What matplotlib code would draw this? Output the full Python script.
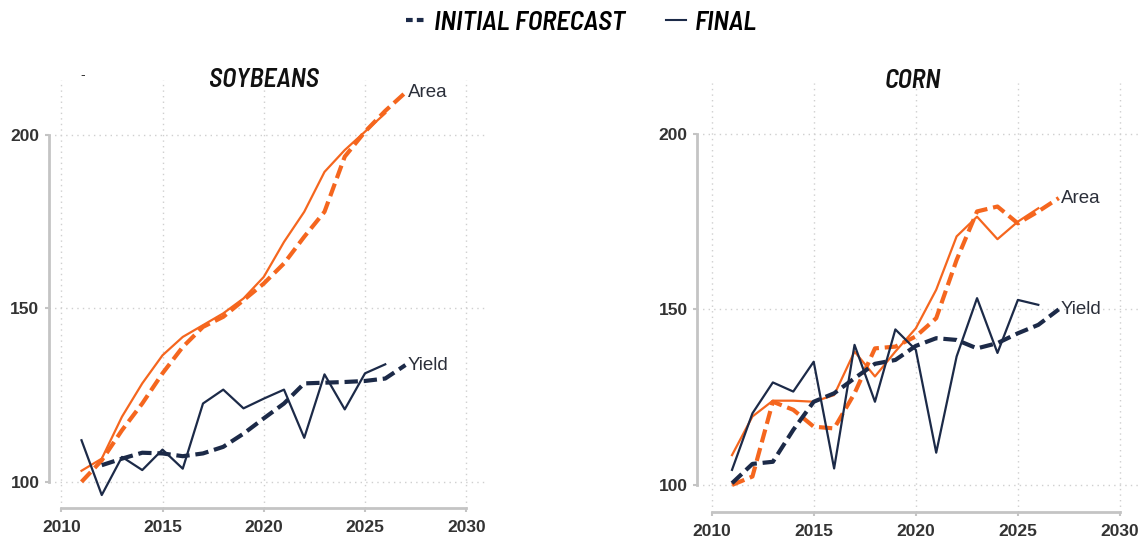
#!/usr/bin/env python3

import matplotlib
matplotlib.use("Agg")
import matplotlib.pyplot as plt
from matplotlib.lines import Line2D

# index values (2011 = 100)
years_final = list(range(2011, 2027))
years_init = list(range(2011, 2028))

soy_area_final = [103.2, 106.7, 118.8, 128.4, 136.5, 141.8, 145.2, 148.6,
                  152.9, 159.1, 169.2, 177.9, 189.4, 195.7, 201.0, 206.3]
soy_area_init = [100.0, 106.2, 114.9, 122.6, 131.3, 138.9, 144.7, 147.6,
                 152.4, 157.2, 163.0, 170.7, 177.9, 193.8, 201.0, 207.0, 212.3]
soy_yield_final = [112.0, 96.2, 107.2, 103.4, 109.3, 103.8, 122.6, 126.6,
                   121.2, 124.0, 126.6, 112.7, 131.0, 120.9, 131.3, 133.9]
soy_yield_init_years = list(range(2012, 2028))
soy_yield_init = [104.8, 106.7, 108.4, 108.2, 107.4, 108.2, 110.1, 113.9,
                  118.3, 122.6, 128.4, 128.6, 128.8, 129.1, 129.8, 133.7]

corn_area_final = [108.5, 119.5, 124.0, 124.0, 123.7, 125.6, 138.0, 130.9,
                   138.0, 144.6, 155.6, 170.8, 176.4, 170.0, 175.0, 178.8]
corn_area_init = [100.0, 102.4, 123.7, 121.4, 116.6, 116.1, 126.1, 138.9,
                  139.4, 142.3, 147.5, 164.1, 177.9, 179.3, 174.5, 177.9, 181.7]
corn_yield_final = [104.3, 120.4, 129.2, 126.6, 135.1, 104.7, 139.9, 123.7,
                    144.3, 138.5, 109.2, 136.6, 153.2, 137.6, 152.7, 151.3]
corn_yield_init = [100.5, 106.0, 106.6, 115.7, 123.7, 126.1, 130.4, 134.5,
                   135.6, 139.6, 141.8, 141.3, 138.9, 140.4, 143.2, 145.6, 150.0]

xticks = [2010, 2015, 2020, 2025, 2030]
yticks = [100, 150, 200]

ORANGE = '#f5661e'
NAVY = '#1c2a48'
GRID = '#cfcfcf'
SPINE = '#c4c4c4'
TXT = '#2b2f3a'

COND = ['Barlow Semi Condensed', 'DejaVu Sans']
plt.rcParams['font.family'] = ['Liberation Sans', 'DejaVu Sans']

DASH = (3.2, 1.4)


def draw_panel(ax, title, title_pos, area_f, area_i, yield_f, yld_i_years, yld_i,
               xlim, ylim):
    ax.set_xlim(*xlim)
    ax.set_ylim(*ylim)
    for x in xticks:
        ax.axvline(x, color=GRID, ls=(0, (1, 3)), lw=1.0, zorder=0)
    for y in yticks:
        ax.axhline(y, color=GRID, ls=(0, (1, 3)), lw=1.0, zorder=0)

    ax.plot(years_final, area_f, color=ORANGE, lw=1.6, zorder=3)
    ax.plot(years_init, area_i, color=ORANGE, lw=3.0, dashes=DASH, zorder=3)
    ax.plot(years_final, yield_f, color=NAVY, lw=1.6, zorder=4)
    ax.plot(yld_i_years, yld_i, color=NAVY, lw=3.0, dashes=DASH, zorder=4)

    ax.text(years_init[-1] + 0.1, area_i[-1], 'Area', fontsize=13.5,
            color=TXT, va='center', ha='left')
    ax.text(yld_i_years[-1] + 0.1, yld_i[-1], 'Yield', fontsize=13.5,
            color=TXT, va='center', ha='left')

    ax.set_xticks(xticks)
    ax.set_yticks(yticks)
    for lab in ax.get_xticklabels() + ax.get_yticklabels():
        lab.set_fontweight('bold')
        lab.set_color('#333333')
        lab.set_fontsize(12.5)
    ax.tick_params(axis='both', length=3, width=1.5, color=SPINE, pad=4)
    ax.tick_params(axis='x', pad=6)

    for s in ['top', 'right']:
        ax.spines[s].set_visible(False)
    ax.spines['left'].set_bounds(100, 200)
    ax.spines['bottom'].set_bounds(2010, 2030)
    for s in ['left', 'bottom']:
        ax.spines[s].set_color(SPINE)
        ax.spines[s].set_linewidth(2)

    ax.text(title_pos[0], title_pos[1], title, transform=ax.transAxes,
            family=COND, fontweight=600, style='italic', fontsize=19,
            color='#111111', ha='center', va='baseline')


def main():
    fig = plt.figure(figsize=(11.42, 5.42), dpi=100)
    ax1 = fig.add_axes([0.043, 0.063, 0.383, 0.790])
    ax2 = fig.add_axes([0.6106, 0.056, 0.388, 0.791])

    draw_panel(ax1, 'SOYBEANS', (0.491, 0.9825), soy_area_final, soy_area_init,
               soy_yield_final, soy_yield_init_years, soy_yield_init,
               (2009.4, 2031), (92.5, 216))
    draw_panel(ax2, 'CORN', (0.487, 0.988), corn_area_final, corn_area_init,
               corn_yield_final, years_init, corn_yield_init,
               (2009.3, 2031), (92.4, 214.5))

    fig.text(0.07, 0.855, '-', fontsize=10, color='#333333')

    handles = [Line2D([], [], color=NAVY, lw=3.0, dashes=(1.6, 1.0)),
               Line2D([], [], color=NAVY, lw=1.5)]
    fig.legend(handles, ['INITIAL FORECAST', 'FINAL'], loc='upper center',
               bbox_to_anchor=(0.509, 1.025), ncol=2, frameon=False,
               handlelength=0.75, handletextpad=0.3, columnspacing=1.5,
               prop=dict(family=COND, weight=600, style='italic', size=19.5))

    fig.savefig('out.png')


if __name__ == '__main__':
    main()
